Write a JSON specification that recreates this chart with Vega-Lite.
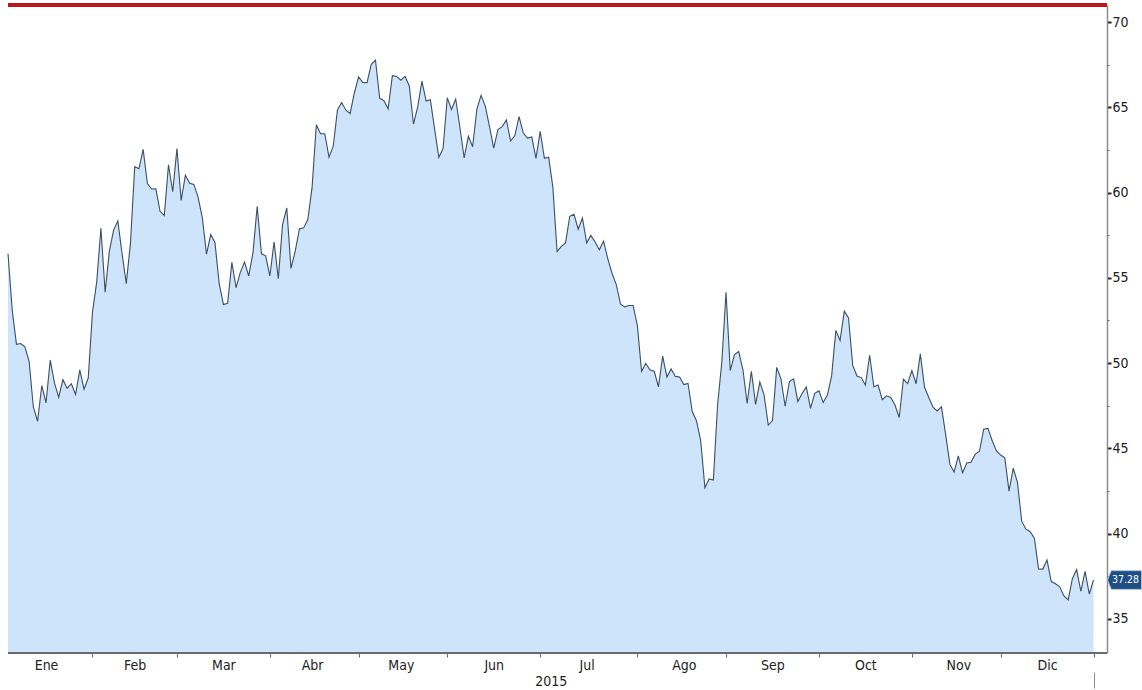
{
  "$schema": "https://vega.github.io/schema/vega-lite/v6.json",
  "width": 1099,
  "height": 648,
  "autosize": "none",
  "padding": {"left": 8, "top": 5, "right": 35, "bottom": 37},
  "background": "white",
  "config": {
    "view": {"stroke": null},
    "font": "Liberation Sans Narrow, DejaVu Sans Condensed, Roboto Condensed, sans-serif",
    "axis": {"grid": false, "labelColor": "#222222", "titleColor": "#222222", "labelFont": "Liberation Sans Narrow, DejaVu Sans Condensed, Roboto Condensed, sans-serif", "titleFont": "Liberation Sans Narrow, DejaVu Sans Condensed, Roboto Condensed, sans-serif"}
  },
  "data": {
    "values": [
      {"d": "2015-01-02", "v": 56.42}, {"d": "2015-01-05", "v": 53.11}, {"d": "2015-01-06", "v": 51.10}, {"d": "2015-01-07", "v": 51.15}, {"d": "2015-01-08", "v": 50.96}, {"d": "2015-01-09", "v": 50.11}, {"d": "2015-01-12", "v": 47.43}, {"d": "2015-01-13", "v": 46.59}, {"d": "2015-01-14", "v": 48.69}, {"d": "2015-01-15", "v": 47.67}, {"d": "2015-01-16", "v": 50.17}, {"d": "2015-01-19", "v": 48.84}, {"d": "2015-01-20", "v": 47.99}, {"d": "2015-01-21", "v": 49.03}, {"d": "2015-01-22", "v": 48.52}, {"d": "2015-01-23", "v": 48.79}, {"d": "2015-01-26", "v": 48.16}, {"d": "2015-01-27", "v": 49.60}, {"d": "2015-01-28", "v": 48.47}, {"d": "2015-01-29", "v": 49.13}, {"d": "2015-01-30", "v": 52.99},
      {"d": "2015-02-02", "v": 54.75}, {"d": "2015-02-03", "v": 57.91}, {"d": "2015-02-04", "v": 54.16}, {"d": "2015-02-05", "v": 56.57}, {"d": "2015-02-06", "v": 57.80}, {"d": "2015-02-09", "v": 58.34}, {"d": "2015-02-10", "v": 56.43}, {"d": "2015-02-11", "v": 54.66}, {"d": "2015-02-12", "v": 57.05}, {"d": "2015-02-13", "v": 61.52}, {"d": "2015-02-16", "v": 61.40}, {"d": "2015-02-17", "v": 62.53}, {"d": "2015-02-18", "v": 60.53}, {"d": "2015-02-19", "v": 60.21}, {"d": "2015-02-20", "v": 60.22}, {"d": "2015-02-23", "v": 58.90}, {"d": "2015-02-24", "v": 58.66}, {"d": "2015-02-25", "v": 61.63}, {"d": "2015-02-26", "v": 60.05}, {"d": "2015-02-27", "v": 62.58},
      {"d": "2015-03-02", "v": 59.54}, {"d": "2015-03-03", "v": 61.02}, {"d": "2015-03-04", "v": 60.55}, {"d": "2015-03-05", "v": 60.48}, {"d": "2015-03-06", "v": 59.73}, {"d": "2015-03-09", "v": 58.53}, {"d": "2015-03-10", "v": 56.39}, {"d": "2015-03-11", "v": 57.54}, {"d": "2015-03-12", "v": 57.08}, {"d": "2015-03-13", "v": 54.67}, {"d": "2015-03-16", "v": 53.44}, {"d": "2015-03-17", "v": 53.51}, {"d": "2015-03-18", "v": 55.91}, {"d": "2015-03-19", "v": 54.43}, {"d": "2015-03-20", "v": 55.32}, {"d": "2015-03-23", "v": 55.92}, {"d": "2015-03-24", "v": 55.11}, {"d": "2015-03-25", "v": 56.48}, {"d": "2015-03-26", "v": 59.19}, {"d": "2015-03-27", "v": 56.41}, {"d": "2015-03-30", "v": 56.29}, {"d": "2015-03-31", "v": 55.11},
      {"d": "2015-04-01", "v": 57.10}, {"d": "2015-04-02", "v": 54.95}, {"d": "2015-04-06", "v": 58.12}, {"d": "2015-04-07", "v": 59.10}, {"d": "2015-04-08", "v": 55.55}, {"d": "2015-04-09", "v": 56.57}, {"d": "2015-04-10", "v": 57.87}, {"d": "2015-04-13", "v": 57.93}, {"d": "2015-04-14", "v": 58.43}, {"d": "2015-04-15", "v": 60.32}, {"d": "2015-04-16", "v": 63.98}, {"d": "2015-04-17", "v": 63.45}, {"d": "2015-04-20", "v": 63.45}, {"d": "2015-04-21", "v": 62.08}, {"d": "2015-04-22", "v": 62.72}, {"d": "2015-04-23", "v": 64.85}, {"d": "2015-04-24", "v": 65.28}, {"d": "2015-04-27", "v": 64.83}, {"d": "2015-04-28", "v": 64.64}, {"d": "2015-04-29", "v": 65.84}, {"d": "2015-04-30", "v": 66.78},
      {"d": "2015-05-01", "v": 66.46}, {"d": "2015-05-04", "v": 66.45}, {"d": "2015-05-05", "v": 67.52}, {"d": "2015-05-06", "v": 67.77}, {"d": "2015-05-07", "v": 65.54}, {"d": "2015-05-08", "v": 65.39}, {"d": "2015-05-11", "v": 64.91}, {"d": "2015-05-12", "v": 66.86}, {"d": "2015-05-13", "v": 66.81}, {"d": "2015-05-14", "v": 66.59}, {"d": "2015-05-15", "v": 66.81}, {"d": "2015-05-18", "v": 66.27}, {"d": "2015-05-19", "v": 64.02}, {"d": "2015-05-20", "v": 65.03}, {"d": "2015-05-21", "v": 66.54}, {"d": "2015-05-22", "v": 65.37}, {"d": "2015-05-25", "v": 65.45}, {"d": "2015-05-26", "v": 63.72}, {"d": "2015-05-27", "v": 62.06}, {"d": "2015-05-28", "v": 62.58}, {"d": "2015-05-29", "v": 65.56},
      {"d": "2015-06-01", "v": 64.88}, {"d": "2015-06-02", "v": 65.49}, {"d": "2015-06-03", "v": 63.80}, {"d": "2015-06-04", "v": 62.03}, {"d": "2015-06-05", "v": 63.31}, {"d": "2015-06-08", "v": 62.69}, {"d": "2015-06-09", "v": 64.88}, {"d": "2015-06-10", "v": 65.70}, {"d": "2015-06-11", "v": 65.07}, {"d": "2015-06-12", "v": 63.87}, {"d": "2015-06-15", "v": 62.61}, {"d": "2015-06-16", "v": 63.70}, {"d": "2015-06-17", "v": 63.87}, {"d": "2015-06-18", "v": 64.26}, {"d": "2015-06-19", "v": 63.02}, {"d": "2015-06-22", "v": 63.34}, {"d": "2015-06-23", "v": 64.45}, {"d": "2015-06-24", "v": 63.49}, {"d": "2015-06-25", "v": 63.20}, {"d": "2015-06-26", "v": 63.26}, {"d": "2015-06-29", "v": 62.01}, {"d": "2015-06-30", "v": 63.59},
      {"d": "2015-07-01", "v": 62.01}, {"d": "2015-07-02", "v": 62.07}, {"d": "2015-07-03", "v": 60.32}, {"d": "2015-07-06", "v": 56.54}, {"d": "2015-07-07", "v": 56.85}, {"d": "2015-07-08", "v": 57.05}, {"d": "2015-07-09", "v": 58.61}, {"d": "2015-07-10", "v": 58.73}, {"d": "2015-07-13", "v": 57.85}, {"d": "2015-07-14", "v": 58.51}, {"d": "2015-07-15", "v": 57.05}, {"d": "2015-07-16", "v": 57.49}, {"d": "2015-07-17", "v": 57.10}, {"d": "2015-07-20", "v": 56.65}, {"d": "2015-07-21", "v": 57.16}, {"d": "2015-07-22", "v": 56.13}, {"d": "2015-07-23", "v": 55.27}, {"d": "2015-07-24", "v": 54.62}, {"d": "2015-07-27", "v": 53.47}, {"d": "2015-07-28", "v": 53.30}, {"d": "2015-07-29", "v": 53.38}, {"d": "2015-07-30", "v": 53.38}, {"d": "2015-07-31", "v": 52.21},
      {"d": "2015-08-03", "v": 49.52}, {"d": "2015-08-04", "v": 49.99}, {"d": "2015-08-05", "v": 49.59}, {"d": "2015-08-06", "v": 49.52}, {"d": "2015-08-07", "v": 48.61}, {"d": "2015-08-10", "v": 50.41}, {"d": "2015-08-11", "v": 49.18}, {"d": "2015-08-12", "v": 49.66}, {"d": "2015-08-13", "v": 49.22}, {"d": "2015-08-14", "v": 49.19}, {"d": "2015-08-17", "v": 48.74}, {"d": "2015-08-18", "v": 48.81}, {"d": "2015-08-19", "v": 47.16}, {"d": "2015-08-20", "v": 46.62}, {"d": "2015-08-21", "v": 45.46}, {"d": "2015-08-24", "v": 42.69}, {"d": "2015-08-25", "v": 43.21}, {"d": "2015-08-26", "v": 43.14}, {"d": "2015-08-27", "v": 47.56}, {"d": "2015-08-28", "v": 50.05}, {"d": "2015-08-31", "v": 54.15},
      {"d": "2015-09-01", "v": 49.56}, {"d": "2015-09-02", "v": 50.50}, {"d": "2015-09-03", "v": 50.68}, {"d": "2015-09-04", "v": 49.61}, {"d": "2015-09-07", "v": 47.63}, {"d": "2015-09-08", "v": 49.52}, {"d": "2015-09-09", "v": 47.58}, {"d": "2015-09-10", "v": 48.89}, {"d": "2015-09-11", "v": 48.14}, {"d": "2015-09-14", "v": 46.37}, {"d": "2015-09-15", "v": 46.63}, {"d": "2015-09-16", "v": 49.75}, {"d": "2015-09-17", "v": 49.08}, {"d": "2015-09-18", "v": 47.47}, {"d": "2015-09-21", "v": 48.92}, {"d": "2015-09-22", "v": 49.08}, {"d": "2015-09-23", "v": 47.75}, {"d": "2015-09-24", "v": 48.22}, {"d": "2015-09-25", "v": 48.60}, {"d": "2015-09-28", "v": 47.34}, {"d": "2015-09-29", "v": 48.23}, {"d": "2015-09-30", "v": 48.37},
      {"d": "2015-10-01", "v": 47.69}, {"d": "2015-10-02", "v": 48.13}, {"d": "2015-10-05", "v": 49.25}, {"d": "2015-10-06", "v": 51.92}, {"d": "2015-10-07", "v": 51.33}, {"d": "2015-10-08", "v": 53.05}, {"d": "2015-10-09", "v": 52.65}, {"d": "2015-10-12", "v": 49.86}, {"d": "2015-10-13", "v": 49.24}, {"d": "2015-10-14", "v": 49.15}, {"d": "2015-10-15", "v": 48.71}, {"d": "2015-10-16", "v": 50.46}, {"d": "2015-10-19", "v": 48.61}, {"d": "2015-10-20", "v": 48.71}, {"d": "2015-10-21", "v": 47.85}, {"d": "2015-10-22", "v": 48.08}, {"d": "2015-10-23", "v": 47.99}, {"d": "2015-10-26", "v": 47.54}, {"d": "2015-10-27", "v": 46.81}, {"d": "2015-10-28", "v": 49.05}, {"d": "2015-10-29", "v": 48.80}, {"d": "2015-10-30", "v": 49.56},
      {"d": "2015-11-02", "v": 48.79}, {"d": "2015-11-03", "v": 50.54}, {"d": "2015-11-04", "v": 48.58}, {"d": "2015-11-05", "v": 47.98}, {"d": "2015-11-06", "v": 47.42}, {"d": "2015-11-09", "v": 47.19}, {"d": "2015-11-10", "v": 47.44}, {"d": "2015-11-11", "v": 45.81}, {"d": "2015-11-12", "v": 44.06}, {"d": "2015-11-13", "v": 43.61}, {"d": "2015-11-16", "v": 44.56}, {"d": "2015-11-17", "v": 43.57}, {"d": "2015-11-18", "v": 44.14}, {"d": "2015-11-19", "v": 44.18}, {"d": "2015-11-20", "v": 44.66}, {"d": "2015-11-23", "v": 44.83}, {"d": "2015-11-24", "v": 46.12}, {"d": "2015-11-25", "v": 46.17}, {"d": "2015-11-26", "v": 45.46}, {"d": "2015-11-27", "v": 44.86}, {"d": "2015-11-30", "v": 44.61},
      {"d": "2015-12-01", "v": 44.44}, {"d": "2015-12-02", "v": 42.49}, {"d": "2015-12-03", "v": 43.84}, {"d": "2015-12-04", "v": 43.00}, {"d": "2015-12-07", "v": 40.73}, {"d": "2015-12-08", "v": 40.26}, {"d": "2015-12-09", "v": 40.11}, {"d": "2015-12-10", "v": 39.73}, {"d": "2015-12-11", "v": 37.93}, {"d": "2015-12-14", "v": 37.92}, {"d": "2015-12-15", "v": 38.45}, {"d": "2015-12-16", "v": 37.19}, {"d": "2015-12-17", "v": 37.06}, {"d": "2015-12-18", "v": 36.88}, {"d": "2015-12-21", "v": 36.35}, {"d": "2015-12-22", "v": 36.11}, {"d": "2015-12-23", "v": 37.36}, {"d": "2015-12-24", "v": 37.89}, {"d": "2015-12-28", "v": 36.62}, {"d": "2015-12-29", "v": 37.79}, {"d": "2015-12-30", "v": 36.46}, {"d": "2015-12-31", "v": 37.28}
    ]
  },
  "resolve": {"axis": {"x": "independent", "y": "independent"}},
  "layer": [
    {
      "mark": {"type": "area", "color": "#cde4fa", "opacity": 1},
      "encoding": {
        "x": {
          "field": "d", "type": "ordinal",
          "scale": {"type": "point", "padding": 0, "range": [0, 1085.5]},
          "axis": {
            "orient": "bottom", "title": null, "labels": false,
            "values": ["2015-01-30", "2015-02-27", "2015-03-31", "2015-04-30", "2015-05-29", "2015-06-30", "2015-07-31", "2015-08-31", "2015-09-30", "2015-10-30", "2015-11-30", "2015-12-31"],
            "domain": false,
            "ticks": true, "tickSize": 4, "tickColor": "#6b6b6b", "tickWidth": 1
          }
        },
        "y": {
          "field": "v", "type": "quantitative",
          "scale": {"domain": [33, 71], "zero": false, "nice": false},
          "axis": {
            "orient": "right", "title": null,
            "values": [35, 40, 45, 50, 55, 60, 65, 70],
            "domain": true, "domainColor": "#8c8c8c", "domainWidth": 1.5,
            "tickSize": 4, "tickWidth": 2, "tickColor": "#222222",
            "labelPadding": 1, "labelFontSize": 14, "labelBaseline": "middle"
          }
        },
        "y2": {"datum": 33}
      }
    },
    {
      "mark": {"type": "line", "color": "#3c4f63", "strokeWidth": 1.1},
      "encoding": {
        "x": {
          "field": "d", "type": "ordinal",
          "axis": {
            "orient": "bottom",
            "values": ["2015-01-15", "2015-02-13", "2015-03-16", "2015-04-15", "2015-05-14", "2015-06-15", "2015-07-15", "2015-08-17", "2015-09-15", "2015-10-15", "2015-11-16", "2015-12-15"],
            "labelExpr": "['Ene','Feb','Mar','Abr','May','Jun','Jul','Ago','Sep','Oct','Nov','Dic'][toNumber(slice(datum.value, 5, 7)) - 1]",
            "labelAngle": 0, "labelPadding": 5, "labelFontSize": 14,
            "ticks": false, "domain": false,
            "title": "2015", "titleFontSize": 14, "titleFontWeight": "normal", "titlePadding": 2
          }
        },
        "y": {
          "field": "v", "type": "quantitative",
          "axis": {
            "orient": "right", "title": null, "labels": false, "domain": false,
            "values": [37.5, 42.5, 47.5, 52.5, 57.5, 62.5, 67.5],
            "tickSize": 2, "tickWidth": 1, "tickColor": "#666666"
          }
        }
      }
    },
    {
      "mark": {"type": "rule", "color": "#6b6b6b", "strokeWidth": 2},
      "encoding": {"y": {"datum": 33, "axis": null}}
    },
    {
      "mark": {"type": "rule", "color": "#c0141e", "strokeWidth": 2.5, "x2Offset": 35},
      "encoding": {"y": {"datum": 71, "axis": null}}
    },
    {
      "transform": [{"filter": "datum.d == '2015-12-31'"}],
      "mark": {"type": "point", "shape": "M -1 0 L -0.78 -0.55 L 1 -0.55 L 1 0.55 L -0.78 0.55 Z", "size": 1156, "filled": true, "fill": "#1d4f86", "stroke": "#a9c3de", "strokeWidth": 1, "opacity": 1, "xOffset": 31},
      "encoding": {
        "x": {
          "field": "d", "type": "ordinal",
          "axis": {
            "orient": "bottom", "title": null, "labels": false, "domain": false,
            "values": ["2015-12-31"], "offset": 19,
            "tickSize": 16, "tickWidth": 1, "tickColor": "#8c8c8c"
          }
        },
        "y": {"field": "v", "type": "quantitative", "axis": null}
      }
    },
    {
      "transform": [{"filter": "datum.d == '2015-12-31'"}],
      "mark": {"type": "text", "color": "#ffffff", "fontSize": 10.5, "align": "center", "baseline": "middle", "xOffset": 32},
      "encoding": {
        "x": {"field": "d", "type": "ordinal", "axis": null},
        "y": {"field": "v", "type": "quantitative", "axis": null},
        "text": {"field": "v", "type": "quantitative", "format": ".2f"}
      }
    }
  ]
}
